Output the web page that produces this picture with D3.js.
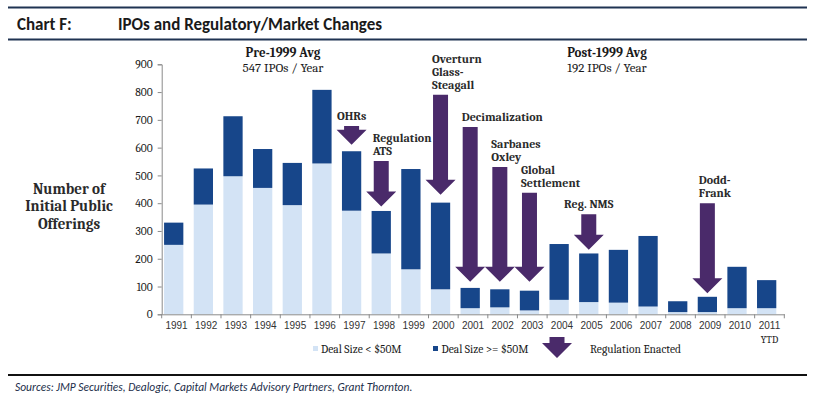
<!DOCTYPE html>
<html>
<head>
<meta charset="utf-8">
<script src="https://cdn.jsdelivr.net/npm/d3@7"></script>
<style>
  html, body { margin: 0; padding: 0; background: #fff; }
  svg { display: block; }
</style>
</head>
<body>
<svg id="chart" width="816" height="398"></svg>
<script>
'use strict';

// ---- data ----
var years      = ["1991","1992","1993","1994","1995","1996","1997","1998","1999","2000",
                  "2001","2002","2003","2004","2005","2006","2007","2008","2009","2010","2011"];
var dealSmall  = [250, 395, 497, 455, 393, 543, 373, 219, 162,  90,  22,  25,  14,  52,  44,  42,  28,   8,   8,  22,  22];
var dealLarge  = [ 80, 130, 216, 140, 152, 265, 214, 153, 361, 312,  73,  65,  71, 201, 175, 190, 254,  39,  55, 149, 101];
var yTicks     = [0, 100, 200, 300, 400, 500, 600, 700, 800, 900];

// regulation arrows: year, value where the shaft starts, value at the tip
var regYears   = ["1997","1998","2000","2001","2002","2003","2005","2009"];
var regFrom    = [678, 552, 790, 674, 530, 438, 360, 400];
var regTo      = [610, 388, 430, 117, 117, 117, 232,  76];
var regLabels  = [["OHRs"], ["Regulation","ATS"], ["Overturn","Glass-","Steagall"], ["Decimalization"],
                  ["Sarbanes","Oxley"], ["Global","Settlement"], ["Reg. NMS"], ["Dodd-","Frank"]];

var seriesNames = ["Deal Size < $50M", "Deal Size >= $50M"];

// ---- style ----
var colors = { light: "#d3e3f5", dark: "#17468a", arrow: "#4a2a6a", rule: "#1f3352", text: "#1a1a1a", axis: "#8a8a8a" };
var serif  = "Cambria, 'Liberation Serif', 'DejaVu Serif', serif";
var sans   = "Calibri, 'Liberation Sans Narrow', 'Liberation Sans', Arial, sans-serif";
var margin = { left: 161.7, right: 784.3, top: 64.3, bottom: 314.3 };

var svg = d3.select("#chart");
svg.append("rect").attr("width", 816).attr("height", 398).attr("fill", "#fff");

/*=====  Header  ======*/
svg.append("line").attr("x1", 8).attr("x2", 807).attr("y1", 7.5).attr("y2", 7.5)
    .attr("stroke", colors.rule).attr("stroke-width", 2);
svg.append("line").attr("x1", 8).attr("x2", 807).attr("y1", 39.5).attr("y2", 39.5)
    .attr("stroke", colors.rule).attr("stroke-width", 2);
svg.append("text").attr("x", 17).attr("y", 30)
    .style("font-family", sans).style("font-weight", "bold").style("font-size", "17px")
    .attr("fill", colors.text).text("Chart F:");
svg.append("text").attr("x", 118).attr("y", 30)
    .style("font-family", sans).style("font-weight", "bold").style("font-size", "17px")
    .attr("fill", colors.text).text("IPOs and Regulatory/Market Changes");

/*=====  Scales  ======*/
var x = d3.scaleBand().domain(years).range([margin.left, margin.right]).paddingInner(0).paddingOuter(0);
var y = d3.scaleLinear().domain([0, 900]).range([margin.bottom, margin.top]);
var barW = x.bandwidth() * 0.65;
var barOff = x.bandwidth() * 0.08;

/*=====  Bars  ======*/
var rows = years.map(function (yr, i) { return { year: yr, small: dealSmall[i], large: dealLarge[i] }; });
var stack = d3.stack().keys(["small", "large"])(rows);
var fills = [colors.light, colors.dark];

svg.append("g").selectAll("g").data(stack).join("g")
    .attr("fill", function (d, i) { return fills[i]; })
    .selectAll("rect").data(function (d) { return d; }).join("rect")
        .attr("x", function (d) { return x(d.data.year) + barOff; })
        .attr("width", barW)
        .attr("y", function (d) { return y(d[1]); })
        .attr("height", function (d) { return y(d[0]) - y(d[1]); });

/*=====  Axes  ======*/
var yAxis = svg.append("g").attr("transform", "translate(" + margin.left + ",0)")
    .call(d3.axisLeft(y).tickValues(yTicks).tickSize(4).tickPadding(5));
yAxis.select(".domain").attr("stroke", colors.axis);
yAxis.selectAll(".tick line").attr("stroke", colors.axis);
yAxis.selectAll("text").style("font-family", serif).style("font-size", "11.5px").attr("fill", colors.text);

var xAxis = svg.append("g").attr("transform", "translate(0," + margin.bottom + ")")
    .call(d3.axisBottom(x).tickSize(0).tickPadding(8));
xAxis.select(".domain").attr("stroke", colors.axis);
xAxis.selectAll("text").style("font-family", "'Liberation Sans', Arial, sans-serif")
    .style("font-size", "10px").attr("fill", "#333");
// tick marks sit between categories
svg.append("g").selectAll("line").data(years.concat(["end"])).join("line")
    .attr("x1", function (d) { return d === "end" ? margin.right : x(d); })
    .attr("x2", function (d) { return d === "end" ? margin.right : x(d); })
    .attr("y1", margin.bottom).attr("y2", margin.bottom + 4)
    .attr("stroke", colors.axis);
svg.append("text").attr("x", x("2011") + x.bandwidth() / 2).attr("y", 343)
    .attr("text-anchor", "middle")
    .style("font-family", serif).style("font-size", "10px").attr("fill", colors.text).text("YTD");

// y title
var yTitle = svg.append("text").attr("text-anchor", "middle")
    .style("font-family", serif).style("font-weight", "bold").style("font-size", "15px").attr("fill", "#2a2a2a");
["Number of", "Initial Public", "Offerings"].forEach(function (t, i) {
    yTitle.append("tspan").attr("x", 69).attr("y", 194 + i * 17.3).text(t);
});

/*=====  Averages  ======*/
function avgNote(cx, head, sub) {
    svg.append("text").attr("x", cx).attr("y", 57).attr("text-anchor", "middle")
        .style("font-family", serif).style("font-weight", "bold").style("font-size", "13px")
        .attr("fill", colors.text).text(head);
    svg.append("text").attr("x", cx).attr("y", 72).attr("text-anchor", "middle")
        .style("font-family", serif).style("font-size", "13px")
        .attr("fill", colors.text).text(sub);
}
avgNote(283, "Pre-1999 Avg", "547 IPOs / Year");
avgNote(607, "Post-1999 Avg", "192 IPOs / Year");

/*=====  Regulation arrows  ======*/
var shaftW = 15, headW = 30, headH = 15;
function arrowPath(cx, top, tip) {
    var hTop = tip - headH;
    return "M" + (cx - shaftW / 2) + "," + top +
        "L" + (cx + shaftW / 2) + "," + top +
        "L" + (cx + shaftW / 2) + "," + hTop +
        "L" + (cx + headW / 2) + "," + hTop +
        "L" + cx + "," + tip +
        "L" + (cx - headW / 2) + "," + hTop +
        "L" + (cx - shaftW / 2) + "," + hTop + "Z";
}
var labelCentred = { "OHRs": true, "Reg. NMS": true };

regYears.forEach(function (yr, i) {
    var cx = x(yr) + barOff + barW / 2;
    var top = y(regFrom[i]), tip = y(regTo[i]);
    svg.append("path").attr("d", arrowPath(cx, top, tip)).attr("fill", colors.arrow);

    var lines = regLabels[i];
    var centred = labelCentred[lines[0]];
    var t = svg.append("text")
        .attr("text-anchor", centred ? "middle" : "start")
        .style("font-family", serif).style("font-weight", "bold").style("font-size", "12px")
        .attr("fill", "#2a2a2a");
    lines.forEach(function (ln, j) {
        t.append("tspan")
            .attr("x", centred ? cx : cx - shaftW / 2 - 1)
            .attr("y", top - 6 - (lines.length - 1 - j) * 13)
            .text(ln);
    });
});

/*=====  Legend  ======*/
var lg = svg.append("g").style("font-family", serif).style("font-size", "11.5px").attr("fill", colors.text);
lg.append("rect").attr("x", 313).attr("y", 346).attr("width", 5).attr("height", 5).attr("fill", colors.light);
lg.append("text").attr("x", 321).attr("y", 353).text(seriesNames[0]);
lg.append("rect").attr("x", 433).attr("y", 346).attr("width", 5).attr("height", 5).attr("fill", colors.dark);
lg.append("text").attr("x", 441.5).attr("y", 353).text(seriesNames[1]);
lg.append("path").attr("d", arrowPath(557, 337, 358)).attr("fill", colors.arrow);
lg.append("text").attr("x", 590).attr("y", 353).text("Regulation Enacted");

/*=====  Footer  ======*/
svg.append("line").attr("x1", 8).attr("x2", 807).attr("y1", 375).attr("y2", 375)
    .attr("stroke", "#111").attr("stroke-width", 2);
svg.append("text").attr("x", 15).attr("y", 391)
    .style("font-family", sans).style("font-style", "italic").style("font-size", "11.5px")
    .attr("fill", "#1c2e4a").text("Sources: JMP Securities, Dealogic, Capital Markets Advisory Partners, Grant Thornton.");
</script>
</body>
</html>
